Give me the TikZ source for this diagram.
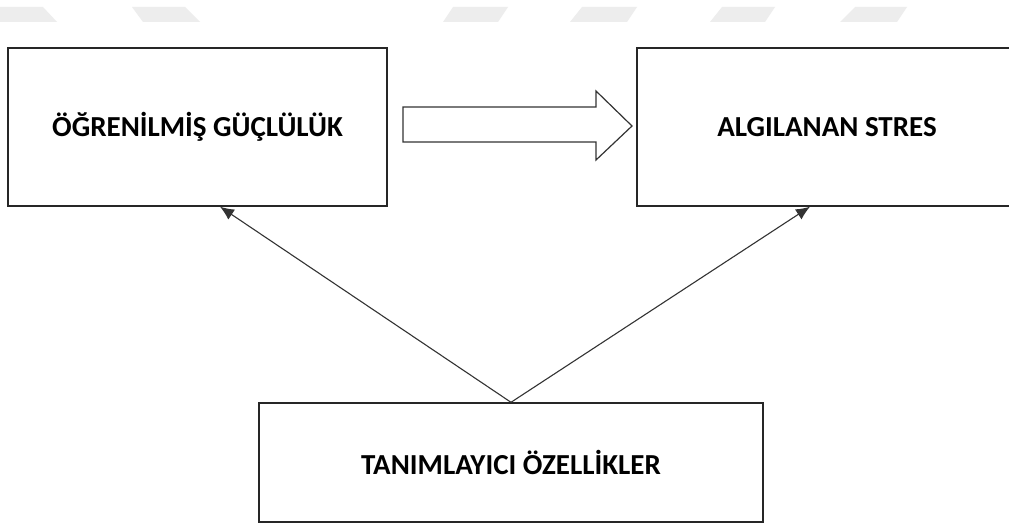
\documentclass[tikz,border=0pt]{standalone}
\usepackage{fontspec}
\setmainfont{Carlito}
\usetikzlibrary{arrows.meta}
\begin{document}
\begin{tikzpicture}[x=1pt,y=-1pt,
  box/.style={draw=black!85,line width=1.4pt,fill=white,inner sep=0pt,
    font=\fontsize{29}{32}\selectfont\bfseries,text=black},
  link/.style={draw=black!80,line width=1.1pt,-{Latex[length=14pt,width=12pt]}},
  wm/.style={fill=black!7,draw=none}]
\clip (0,0) rectangle (1009,526);
\fill[white] (0,0) rectangle (1009,526);
% watermark stripes
\fill[wm] (0,7) -- (43,7) -- (57,22) -- (0,22) -- cycle;
\fill[wm] (132,7) -- (185,7) -- (200,22) -- (143,22) -- cycle;
\fill[wm] (453,7) -- (508,7) -- (498,22) -- (443,22) -- cycle;
\fill[wm] (582,7) -- (637,7) -- (627,22) -- (570,22) -- cycle;
\fill[wm] (722,7) -- (775,7) -- (765,22) -- (710,22) -- cycle;
\fill[wm] (855,7) -- (907,7) -- (897,22) -- (840,22) -- cycle;
% boxes
\node[box,minimum width=379pt,minimum height=158pt] (og) at (197.5,127) {ÖĞRENİLMİŞ GÜÇLÜLÜK};
\node[box,minimum width=380pt,minimum height=158pt] (as) at (827,127) {ALGILANAN STRES};
\node[box,minimum width=504pt,minimum height=119pt] (to) at (511,462.5) {TANIMLAYICI ÖZELLİKLER};
% block arrow
\draw[draw=black!80,line width=1.2pt,fill=white,line join=miter]
  (403,107) -- (596,107) -- (596,91) -- (632,126) -- (596,160) -- (596,142) -- (403,142) -- cycle;
% connectors
\coordinate (ogin) at (220,206);
\coordinate (asin) at (810,206);
\draw[link] (to.north) -- (og.south -| ogin);
\draw[link] (to.north) -- (as.south -| asin);
\end{tikzpicture}
\end{document}
